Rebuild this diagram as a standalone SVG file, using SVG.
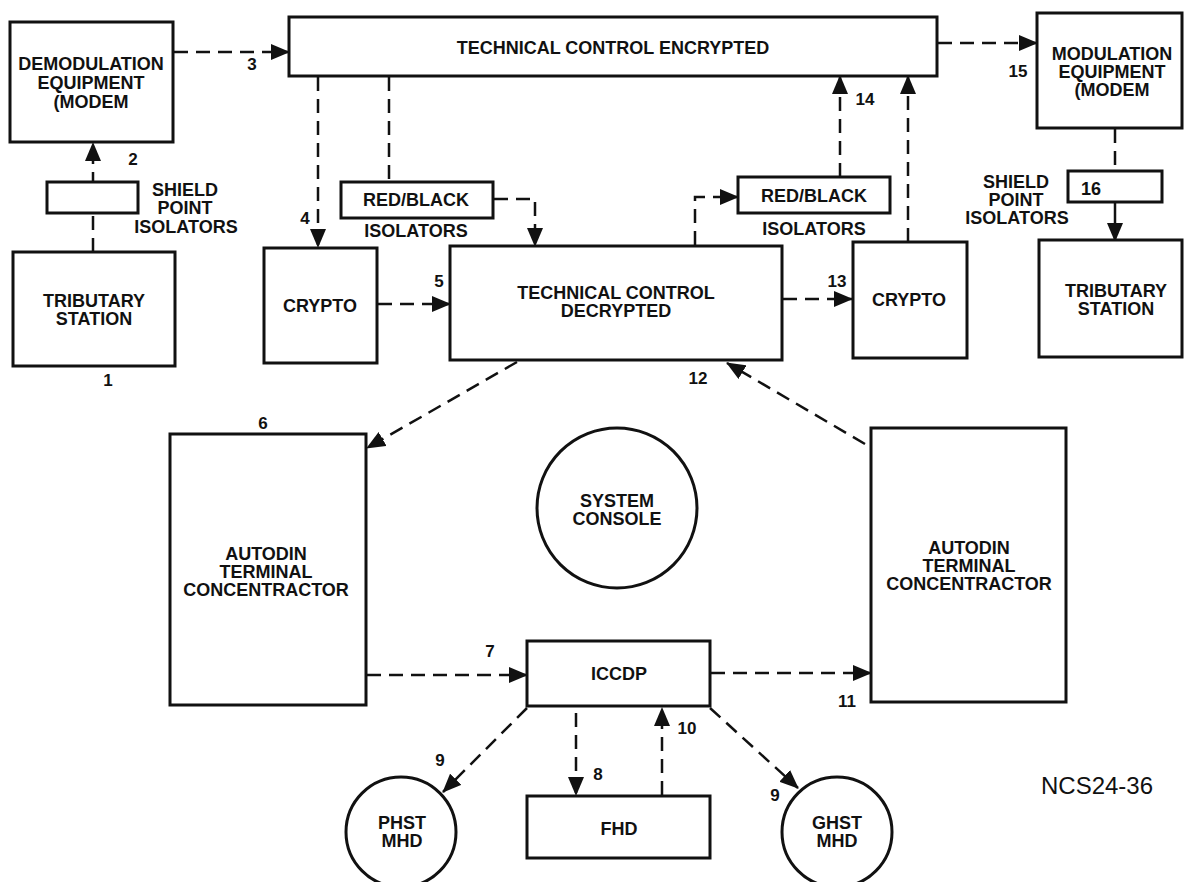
<svg xmlns="http://www.w3.org/2000/svg" width="1184" height="882" viewBox="0 0 1184 882">
<style>
.box{fill:#fff;stroke:#111;stroke-width:3}
.ln{fill:none;stroke:#111;stroke-width:2.5;stroke-dasharray:14 8}
.sl{fill:none;stroke:#111;stroke-width:2.5}
.t{font-family:"Liberation Sans",Arial,Helvetica,sans-serif;font-weight:bold;font-size:18px;text-anchor:middle;fill:#111}
.n{font-family:"Liberation Sans",Arial,Helvetica,sans-serif;font-weight:bold;font-size:17px;text-anchor:middle;fill:#111}
.cap{font-family:"Liberation Sans",Arial,Helvetica,sans-serif;font-size:24px;text-anchor:middle;fill:#111}
</style>
<defs>
<marker id="ah" viewBox="0 0 19 16" refX="18" refY="8" markerWidth="19" markerHeight="16" markerUnits="userSpaceOnUse" orient="auto">
<path d="M0,0 L19,8 L0,16 z" fill="#111"/>
</marker>
</defs>
<rect width="1184" height="882" fill="#fff"/>

<g id="connectors">
<line class="ln" x1="93" y1="252" x2="93" y2="143" marker-end="url(#ah)"/>
<line class="ln" x1="174" y1="52" x2="289" y2="52" marker-end="url(#ah)"/>
<line class="ln" x1="318" y1="77" x2="318" y2="247" marker-end="url(#ah)"/>
<line class="ln" x1="389" y1="77" x2="389" y2="182"/>
<polyline class="ln" points="494,199 535,199 535,246" marker-end="url(#ah)"/>
<line class="ln" x1="378" y1="304" x2="450" y2="304" marker-end="url(#ah)"/>
<line class="ln" x1="517" y1="362" x2="367" y2="448" marker-end="url(#ah)"/>
<line class="ln" x1="367" y1="675" x2="527" y2="675" marker-end="url(#ah)"/>
<line class="ln" x1="576" y1="713" x2="576" y2="795" marker-end="url(#ah)"/>
<line class="ln" x1="662" y1="795" x2="662" y2="708" marker-end="url(#ah)"/>
<line class="ln" x1="527" y1="708" x2="443" y2="792" marker-end="url(#ah)"/>
<line class="ln" x1="710" y1="708" x2="798" y2="788" marker-end="url(#ah)"/>
<line class="ln" x1="711" y1="673" x2="871" y2="673" marker-end="url(#ah)"/>
<line class="ln" x1="865" y1="444" x2="727" y2="363" marker-end="url(#ah)"/>
<line class="ln" x1="783" y1="299" x2="852" y2="299" marker-end="url(#ah)"/>
<polyline class="ln" points="695,245 695,197 738,197" marker-end="url(#ah)"/>
<line class="ln" x1="840" y1="177" x2="840" y2="76" marker-end="url(#ah)"/>
<line class="ln" x1="908" y1="242" x2="908" y2="76" marker-end="url(#ah)"/>
<line class="ln" x1="938" y1="43" x2="1037" y2="43" marker-end="url(#ah)"/>
<line class="ln" x1="1115" y1="129" x2="1115" y2="171"/>
<line class="sl" x1="1115" y1="171" x2="1115" y2="241" marker-end="url(#ah)"/>
</g>

<g id="demod">
<rect class="box" x="10" y="22" width="163" height="120"/>
<text class="t" x="91" y="70">DEMODULATION</text>
<text class="t" x="91" y="89">EQUIPMENT</text>
<text class="t" x="91" y="108">(MODEM</text>
</g>

<g id="tc-encrypted">
<rect class="box" x="289" y="17" width="648" height="59"/>
<text class="t" x="613" y="54">TECHNICAL CONTROL ENCRYPTED</text>
</g>

<g id="modulation">
<rect class="box" x="1037" y="13" width="145" height="115"/>
<text class="t" x="1112" y="60">MODULATION</text>
<text class="t" x="1112" y="78">EQUIPMENT</text>
<text class="t" x="1112" y="96">(MODEM</text>
</g>

<g id="shield-left">
<rect class="box" x="47" y="182" width="91" height="31"/>
<text class="t" x="185" y="196">SHIELD</text>
<text class="t" x="185" y="214">POINT</text>
<text class="t" x="186" y="233">ISOLATORS</text>
</g>

<g id="redblack-left">
<rect class="box" x="341" y="182" width="152" height="36"/>
<text class="t" x="416" y="206">RED/BLACK</text>
<text class="t" x="416" y="237">ISOLATORS</text>
</g>

<g id="redblack-right">
<rect class="box" x="738" y="177" width="152" height="36"/>
<text class="t" x="814" y="202">RED/BLACK</text>
<text class="t" x="814" y="235">ISOLATORS</text>
</g>

<g id="shield-right">
<rect class="box" x="1068" y="171" width="94" height="31"/>
<text class="t" x="1091" y="195">16</text>
<text class="t" x="1016" y="188">SHIELD</text>
<text class="t" x="1016" y="206">POINT</text>
<text class="t" x="1017" y="224">ISOLATORS</text>
</g>

<g id="tributary-left">
<rect class="box" x="13" y="252" width="162" height="114"/>
<text class="t" x="94" y="307">TRIBUTARY</text>
<text class="t" x="94" y="325">STATION</text>
</g>

<g id="crypto-left">
<rect class="box" x="264" y="248" width="113" height="115"/>
<text class="t" x="320" y="312">CRYPTO</text>
</g>

<g id="tc-decrypted">
<rect class="box" x="450" y="246" width="332" height="114"/>
<text class="t" x="616" y="299">TECHNICAL CONTROL</text>
<text class="t" x="616" y="317">DECRYPTED</text>
</g>

<g id="crypto-right">
<rect class="box" x="853" y="242" width="114" height="116"/>
<text class="t" x="909" y="306">CRYPTO</text>
</g>

<g id="tributary-right">
<rect class="box" x="1039" y="240" width="143" height="117"/>
<text class="t" x="1116" y="297">TRIBUTARY</text>
<text class="t" x="1116" y="315">STATION</text>
</g>

<g id="autodin-left">
<rect class="box" x="170" y="434" width="196" height="271"/>
<text class="t" x="266" y="560">AUTODIN</text>
<text class="t" x="266" y="578">TERMINAL</text>
<text class="t" x="266" y="596">CONCENTRACTOR</text>
</g>

<g id="system-console">
<circle class="box" cx="617" cy="508" r="80"/>
<text class="t" x="617" y="507">SYSTEM</text>
<text class="t" x="617" y="525">CONSOLE</text>
</g>

<g id="autodin-right">
<rect class="box" x="871" y="428" width="195" height="274"/>
<text class="t" x="969" y="554">AUTODIN</text>
<text class="t" x="969" y="572">TERMINAL</text>
<text class="t" x="969" y="590">CONCENTRACTOR</text>
</g>

<g id="iccdp">
<rect class="box" x="527" y="641" width="183" height="65"/>
<text class="t" x="619" y="680">ICCDP</text>
</g>

<g id="fhd">
<rect class="box" x="527" y="796" width="183" height="62"/>
<text class="t" x="619" y="835">FHD</text>
</g>

<g id="phst">
<circle class="box" cx="401" cy="832" r="55"/>
<text class="t" x="402" y="829">PHST</text>
<text class="t" x="402" y="847">MHD</text>
</g>

<g id="ghst">
<circle class="box" cx="837" cy="832" r="55"/>
<text class="t" x="837" y="829">GHST</text>
<text class="t" x="837" y="847">MHD</text>
</g>

<g id="labels">
<text class="n" x="108" y="386">1</text>
<text class="n" x="133" y="165">2</text>
<text class="n" x="252" y="70">3</text>
<text class="n" x="305" y="224">4</text>
<text class="n" x="439" y="287">5</text>
<text class="n" x="263" y="429">6</text>
<text class="n" x="490" y="657">7</text>
<text class="n" x="598" y="780">8</text>
<text class="n" x="440" y="766">9</text>
<text class="n" x="775" y="801">9</text>
<text class="n" x="687" y="734">10</text>
<text class="n" x="847" y="707">11</text>
<text class="n" x="698" y="384">12</text>
<text class="n" x="837" y="287">13</text>
<text class="n" x="865" y="105">14</text>
<text class="n" x="1018" y="77">15</text>
<text class="cap" x="1097" y="794">NCS24-36</text>
</g>
</svg>
